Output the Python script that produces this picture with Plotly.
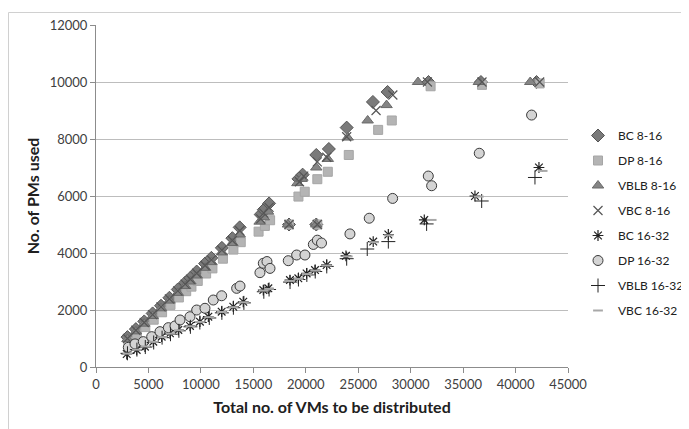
import plotly.graph_objects as go

# ---- data ----
bc816_x = [3000, 3800, 4600, 5400, 6200, 7000, 7800, 8500, 9000, 9600, 10400, 11000, 12000, 13000, 13700, 15700, 16000, 16500, 18400, 19300, 19700, 21000, 21000, 22200, 23900, 26400, 27800, 31700, 36700, 42000]
bc816_y = [1050, 1330, 1600, 1880, 2150, 2430, 2720, 2960, 3130, 3350, 3630, 3830, 4180, 4520, 4900, 5350, 5520, 5740, 5000, 6600, 6750, 5000, 7440, 7650, 8400, 9300, 9650, 10000, 10000, 10000]

dp816_x = [3100, 3900, 4700, 5500, 6300, 7100, 7900, 8600, 9100, 9700, 10500, 11100, 12100, 13100, 13800, 15500, 16100, 16600, 18400, 19300, 19900, 21100, 21100, 22100, 24100, 26900, 28200, 31900, 36800, 42300]
dp816_y = [880, 1140, 1400, 1660, 1920, 2180, 2440, 2660, 2820, 3020, 3280, 3460, 3800, 4120, 4380, 4750, 4950, 5150, 5000, 5980, 6150, 5000, 6590, 6850, 7440, 8320, 8650, 9850, 9900, 9950]

vblb816_x = [3000, 3800, 4600, 5400, 6200, 7000, 7800, 8500, 9000, 9600, 10400, 11000, 12000, 13000, 13700, 15600, 16000, 16400, 18300, 19200, 19600, 21000, 21000, 22100, 24000, 25900, 27700, 30700, 36500, 41400]
vblb816_y = [980, 1250, 1520, 1790, 2060, 2330, 2600, 2840, 3000, 3210, 3480, 3680, 4020, 4350, 4650, 5100, 5250, 5450, 5000, 6450, 6600, 5000, 7000, 7300, 8050, 8650, 9190, 10000, 10000, 10000]

vbc816_x = [3000, 3800, 4600, 5400, 6200, 7000, 7800, 8500, 9000, 9600, 10400, 11000, 12000, 13000, 13700, 15700, 16000, 16500, 18400, 19400, 19800, 21100, 21100, 22000, 23900, 26700, 28300, 31600, 36800, 42300]
vbc816_y = [1000, 1290, 1560, 1840, 2110, 2390, 2670, 2910, 3080, 3290, 3560, 3760, 4100, 4440, 4780, 5200, 5400, 5600, 5000, 6500, 6700, 5000, 7200, 7360, 8080, 9000, 9545, 10000, 10000, 10000]

bc1632_x = [2930, 3880, 4670, 5460, 6260, 7050, 7850, 8960, 9910, 10710, 11980, 13090, 14040, 15950, 16430, 18490, 19290, 20080, 20880, 21990, 23830, 26430, 27870, 31300, 36130, 42230]
bc1632_y = [456, 600, 712, 890, 1065, 1180, 1300, 1440, 1590, 1765, 1940, 2115, 2290, 2700, 2760, 3050, 3110, 3285, 3400, 3580, 3900, 4400, 4650, 5160, 6000, 7000]

dp1632_x = [3080, 3720, 4510, 5310, 6100, 6900, 7530, 8010, 8960, 9600, 10390, 11180, 11980, 13410, 13730, 15630, 15950, 16300, 16590, 18330, 19130, 19920, 20720, 21100, 21500, 24210, 26050, 28280, 31680, 32000, 36540, 41530]
dp1632_y = [690, 810, 890, 1065, 1240, 1380, 1440, 1650, 1765, 2000, 2060, 2350, 2500, 2760, 2840, 3310, 3640, 3700, 3460, 3730, 3930, 3930, 4300, 4450, 4350, 4670, 5220, 5915, 6700, 6360, 7500, 8840]

vblb1632_x = [3000, 3900, 4700, 5500, 6300, 7100, 7900, 9000, 9900, 10800, 12000, 13100, 14100, 16000, 16500, 18500, 19300, 20100, 20900, 22000, 23900, 25860, 27870, 31520, 36770, 41850]
vblb1632_y = [480, 610, 700, 860, 1030, 1150, 1270, 1410, 1560, 1720, 1900, 2080, 2250, 2640, 2720, 2980, 3070, 3230, 3350, 3530, 3800, 4140, 4400, 5020, 5825, 6650]

vbc1632_x = [3000, 3900, 4700, 5500, 6300, 7100, 7900, 9000, 9900, 10800, 12000, 13100, 14100, 16000, 16500, 18500, 19300, 20100, 20900, 22000, 24000, 26500, 27900, 32000, 36500, 42580]
vbc1632_y = [470, 610, 720, 880, 1050, 1170, 1290, 1430, 1580, 1750, 1930, 2100, 2270, 2680, 2740, 3020, 3090, 3260, 3380, 3560, 3880, 4380, 4620, 5160, 5980, 6880]

x_ticks = [0, 5000, 10000, 15000, 20000, 25000, 30000, 35000, 40000, 45000]
y_ticks = [0, 2000, 4000, 6000, 8000, 10000, 12000]

series = [
    ("BC 8-16", bc816_x, bc816_y, dict(symbol="diamond", size=10, color="#7a7a7a", line=dict(color="#555555", width=1))),
    ("DP 8-16", dp816_x, dp816_y, dict(symbol="square", size=9, color="#b4b4b4", line=dict(color="#a6a6a6", width=1))),
    ("VBLB 8-16", vblb816_x, vblb816_y, dict(symbol="triangle-up", size=10, color="#858585", line=dict(color="#6a6a6a", width=1))),
    ("VBC 8-16", vbc816_x, vbc816_y, dict(symbol="x-thin-open", size=9, color="#555555", line=dict(color="#555555", width=1.2))),
    ("BC 16-32", bc1632_x, bc1632_y, dict(symbol="asterisk-open", size=9, color="#222222", line=dict(color="#222222", width=1.2))),
    ("DP 16-32", dp1632_x, dp1632_y, dict(symbol="circle", size=10, color="#d4d4d4", line=dict(color="#3a3a3a", width=1))),
    ("VBLB 16-32", vblb1632_x, vblb1632_y, dict(symbol="cross-thin-open", size=10, color="#222222", line=dict(color="#222222", width=1))),
    ("VBC 16-32", vbc1632_x, vbc1632_y, dict(symbol="line-ew-open", size=7, color="#a8a8a8", line=dict(color="#a8a8a8", width=2))),
]

fig = go.Figure()
for i, (name, xs, ys, mk) in enumerate(series):
    fig.add_trace(go.Scatter(x=xs, y=ys, mode="markers", name=name, marker=mk,
                             legendgroup=f"g{i}"))

# page body adds an 8px offset; figure coordinates are screen coordinates minus 8
OFF = 8
W, H = 689 - OFF, 429 - OFF
L, R, T, B = 96 - OFF, 568 - OFF, 25 - OFF, 367 - OFF

fig.update_layout(
    width=W, height=H,
    margin=dict(l=L, r=W - R, t=T, b=H - B, autoexpand=False),
    paper_bgcolor="white", plot_bgcolor="white",
    font=dict(family="Lato, 'Open Sans', sans-serif", size=13, color="#404040"),
    showlegend=True,
    legend=dict(x=(570 - L) / (R - L), y=(B - 113) / (B - T), xanchor="left", yanchor="top",
                font=dict(size=12, color="#202020"), tracegroupgap=6,
                itemwidth=30, bgcolor="rgba(0,0,0,0)"),
    xaxis=dict(range=[0, 45000], tickvals=x_ticks, ticktext=[str(v) for v in x_ticks],
               showgrid=False, showline=True, linecolor="#8c8c8c", linewidth=1,
               ticks="outside", ticklen=5, tickcolor="#8c8c8c", zeroline=False,
               automargin=False,
               tickfont=dict(size=13, color="#404040"),
               title=dict(text="<b>Total no. of VMs to be distributed</b>",
                          font=dict(size=16, color="#202020"), standoff=11)),
    yaxis=dict(range=[0, 12000], tickvals=y_ticks, ticktext=[str(v) for v in y_ticks],
               showgrid=True, gridcolor="#bdbdbd", gridwidth=1,
               showline=True, linecolor="#8c8c8c", linewidth=1,
               ticks="outside", ticklen=5, tickcolor="#8c8c8c", zeroline=False,
               automargin=False,
               tickfont=dict(size=13, color="#404040"),
               title=dict(text="<b>No. of PMs used</b>",
                          font=dict(size=16, color="#202020"), standoff=6)),
)

# outer chart-area frame (light gray), extending past canvas at right/bottom
px = lambda p: (p - L) / (R - L)
py = lambda p: (B - p) / (B - T)
fig.add_shape(type="line", xref="paper", yref="paper", x0=px(0.5), x1=px(W + 10), y0=py(4.5), y1=py(4.5),
              line=dict(color="#d0d0d0", width=1))
fig.add_shape(type="line", xref="paper", yref="paper", x0=px(0.5), x1=px(0.5), y0=py(4.5), y1=py(H + 10),
              line=dict(color="#d0d0d0", width=1))

fig.write_html("out.html")
